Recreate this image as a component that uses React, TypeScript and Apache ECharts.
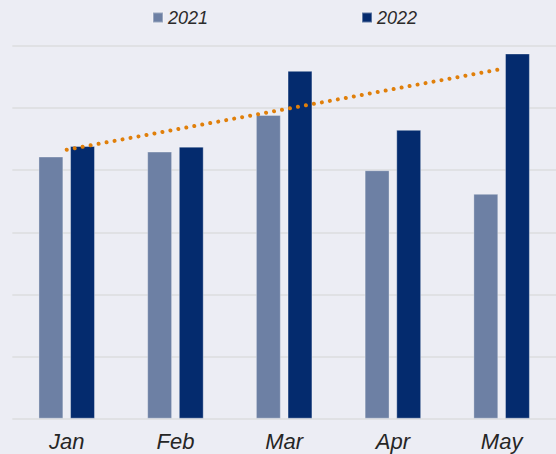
import React, { useEffect, useRef } from "react";
import * as echarts from "echarts";

const categories = ["Jan", "Feb", "Mar", "Apr", "May"];
const values2021 = [42.2, 43.0, 48.9, 40.0, 36.2];
const values2022 = [43.9, 43.8, 56.0, 46.5, 58.8];
// linear trend line for 2022, read at its two ends (Jan and May)
const trend2022 = [
  ["Jan", 43.3],
  ["May", 56.3],
];
const seriesNames = ["2021", "2022"];

export default function App() {
  const ref = useRef<HTMLDivElement>(null);
  useEffect(() => {
    if (!ref.current) return;
    const chart = echarts.init(ref.current, undefined, { renderer: "svg" });
    const font = "'Liberation Sans', Arial, sans-serif";
    chart.setOption({
      animation: false,
      backgroundColor: "#ecedf4",
      legend: {
        data: seriesNames,
        left: 147,
        top: 3.5,
        itemWidth: 10,
        itemHeight: 10,
        itemGap: 153,
        icon: "rect",
        textStyle: {
          fontSize: 18,
          fontStyle: "italic",
          color: "#2b2b2b",
          fontFamily: font,
        },
      },
      grid: { left: 12.35, width: 550, top: 46, bottom: 35.3 },
      xAxis: {
        type: "category",
        data: categories,
        axisLine: { show: false },
        axisTick: { show: false },
        axisLabel: {
          fontSize: 22,
          fontStyle: "italic",
          color: "#262626",
          fontFamily: font,
          margin: 12,
        },
      },
      yAxis: {
        type: "value",
        min: 0,
        max: 60,
        interval: 10,
        axisLine: { show: false },
        axisTick: { show: false },
        axisLabel: { show: false },
        splitLine: { show: true, lineStyle: { color: "#dcdcdf", width: 1.5 } },
      },
      series: [
        {
          name: seriesNames[0],
          type: "bar",
          data: values2021,
          barWidth: 24.9,
          barGap: "27%",
          itemStyle: {
            color: "#6d80a4",
            borderColor: "rgba(255,255,255,0.3)",
            borderWidth: 1,
          },
        },
        {
          name: seriesNames[1],
          type: "bar",
          data: values2022,
          barWidth: 24.9,
          barGap: "27%",
          itemStyle: {
            color: "#042b6e",
            borderColor: "rgba(255,255,255,0.35)",
            borderWidth: 1,
          },
        },
        {
          type: "line",
          data: trend2022,
          symbol: "none",
          silent: true,
          lineStyle: {
            color: "#e07f0a",
            width: 4,
            type: [0.01, 8.1],
            cap: "round",
          },
        },
      ],
    });
    return () => chart.dispose();
  }, []);
  return (
    <div
      ref={ref}
      style={{ position: "fixed", left: 0, top: 0, width: 556, height: 454 }}
    />
  );
}
